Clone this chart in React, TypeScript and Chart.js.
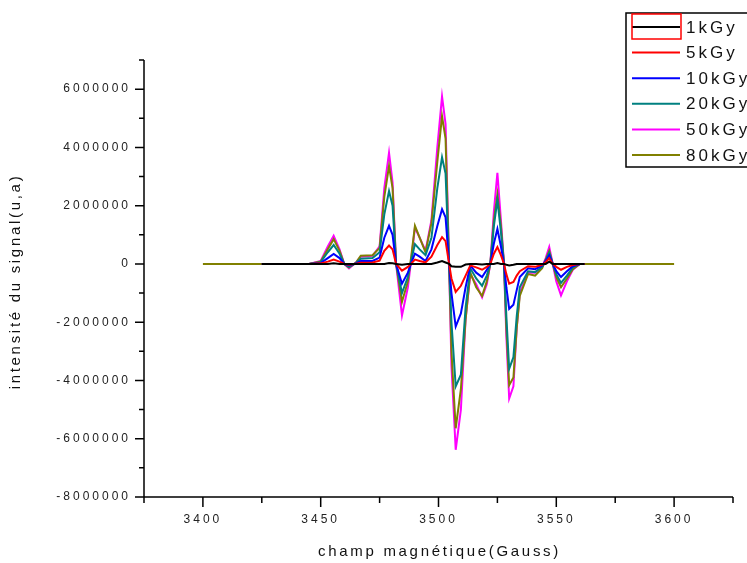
import { useEffect, useRef } from "react";
import { Chart, registerables } from "chart.js";

Chart.register(...registerables);

// magnetic field (Gauss) sample positions shared by all spectra
const field = [
  3425, 3445, 3450, 3453, 3455.5, 3458, 3460, 3462, 3465, 3467, 3472, 3475, 3477, 3479, 3480.5,
  3482, 3484.5, 3487, 3488.5, 3490, 3492, 3494.5, 3497, 3499.5, 3501.5, 3503, 3504.5, 3505.5,
  3507.3, 3509.5, 3511.5, 3513.5, 3516, 3518.5, 3520.5, 3522, 3523.5, 3525, 3526.5, 3527.8,
  3528.8, 3530, 3531.8, 3533.2, 3534.5, 3538, 3541, 3544, 3545.5, 3547, 3548.5, 3550, 3552,
  3554.5, 3557, 3560, 3562,
];
// the 80kGy spectrum also covers the flat ends of the sweep
const sweepStart80 = [3400];
const sweepEnd80 = [3600];
const sweepEdgeValue80 = [0];

const signal1kGy = [
  0, 0, 0, 0, 20000, 0, 0, 0, 0, 0,
  0, 0, 0, 30000, 20000, 0, -30000, 0, 0, 0,
  0, 0, 0, 50000, 100000, 50000, 0, -80000, -100000, -100000,
  -20000, 0, 0, -20000, 0, 0, 0, 30000, 0, 0,
  -30000, -50000, -30000, 0, 0, 0, 0, 0, 0, 80000,
  0, 0, 0, 0, 0, 0, 0,
];
const signal5kGy = [
  0, 0, 20000, 80000, 150000, 80000, 0, -30000, 10000, 40000,
  50000, 110000, 450000, 630000, 500000, 0, -230000, -100000, 20000, 150000,
  100000, 50000, 250000, 650000, 920000, 780000, 0, -500000, -960000, -750000,
  -400000, -50000, -120000, -200000, -100000, 0, 350000, 580000, 300000, 0,
  -350000, -680000, -620000, -400000, -250000, -80000, -100000, -30000, 60000, 200000,
  0, -100000, -200000, -100000, -40000, 0, 0,
];
const signal10kGy = [
  0, 0, 30000, 200000, 340000, 200000, 0, -50000, 20000, 100000,
  100000, 220000, 900000, 1310000, 1000000, 0, -680000, -300000, 50000, 350000,
  250000, 100000, 500000, 1300000, 1880000, 1600000, 0, -1000000, -2150000, -1700000,
  -800000, -50000, -300000, -450000, -200000, 0, 700000, 1200000, 600000, 0,
  -800000, -1540000, -1400000, -900000, -450000, -150000, -180000, -50000, 100000, 300000,
  0, -250000, -450000, -250000, -80000, 0, 0,
];
const signal20kGy = [
  0, 0, 60000, 400000, 650000, 350000, 0, -100000, 30000, 180000,
  200000, 400000, 1700000, 2500000, 2000000, 0, -1000000, -450000, 150000, 680000,
  500000, 300000, 900000, 2600000, 3660000, 3100000, 0, -2000000, -4200000, -3800000,
  -1500000, -150000, -500000, -750000, -400000, 0, 1300000, 2200000, 1100000, 0,
  -1800000, -3600000, -3200000, -1800000, -800000, -250000, -280000, -100000, 120000, 380000,
  0, -350000, -650000, -400000, -120000, 0, 0,
];
const signal50kGy = [
  0, 0, 100000, 600000, 970000, 500000, 0, -150000, 50000, 250000,
  280000, 600000, 2600000, 3820000, 2800000, 0, -1770000, -800000, 200000, 1250000,
  900000, 450000, 1500000, 4000000, 5750000, 4800000, 0, -3500000, -6380000, -5000000,
  -1900000, -350000, -700000, -1150000, -700000, 0, 1800000, 3130000, 1500000, 0,
  -2500000, -4620000, -4200000, -2200000, -1000000, -300000, -300000, -100000, 200000, 580000,
  0, -600000, -1080000, -600000, -200000, 0, 0,
];
const signal80kGy = [
  0, 0, 80000, 500000, 850000, 450000, 0, -120000, 50000, 280000,
  300000, 550000, 2300000, 3360000, 2600000, 0, -1300000, -600000, 300000, 1310000,
  900000, 400000, 1400000, 3500000, 5070000, 4300000, 0, -3000000, -5640000, -4300000,
  -1900000, -300000, -800000, -1100000, -600000, 0, 1500000, 2390000, 1300000, 0,
  -2200000, -4160000, -3900000, -2200000, -1100000, -350000, -400000, -150000, 150000, 450000,
  0, -450000, -800000, -500000, -180000, 0, 0,
];

const seriesLabels = ["1kGy", "5kGy", "10kGy", "20kGy", "50kGy", "80kGy"];
const seriesColors = ["#000000", "#ff0000", "#0000ff", "#008080", "#ff00ff", "#808000"];
// drawing order: smaller value = drawn on top
const seriesOrder = [0, 1, 2, 3, 5, 4];

const xTicks = [3400, 3450, 3500, 3550, 3600];
const xMinorTicks = [3375, 3425, 3475, 3525, 3575, 3625];
const yTicks = [-8000000, -6000000, -4000000, -2000000, 0, 2000000, 4000000, 6000000];
const yMinorTicks = [-7000000, -5000000, -3000000, -1000000, 1000000, 3000000, 5000000, 7000000];

const xTitle = "champ magnétique(Gauss)";
const yTitle = "intensité du signal(u,a)";

const FONT = '"Liberation Sans", Arial, sans-serif';

function toPoints(xs: number[], ys: number[]) {
  return xs.map((x, i) => ({ x, y: ys[i] }));
}

const decoPlugin = {
  id: "deco",
  beforeDraw(chart: any) {
    (chart.ctx as any).letterSpacing = "3px";
  },
  afterDraw(chart: any) {
    const ctx = chart.ctx as CanvasRenderingContext2D & { letterSpacing: string };
    const xs = chart.scales.x;
    const ys = chart.scales.y;
    const { left, right, top, bottom } = chart.chartArea;
    ctx.save();
    ctx.strokeStyle = "#000";
    ctx.lineWidth = 1.5;
    ctx.beginPath();
    ctx.moveTo(left, top);
    ctx.lineTo(left, bottom);
    ctx.moveTo(left, bottom);
    ctx.lineTo(right, bottom);
    for (const v of xTicks) {
      const p = xs.getPixelForValue(v);
      ctx.moveTo(p, bottom);
      ctx.lineTo(p, bottom + 10);
    }
    for (const v of xMinorTicks) {
      const p = xs.getPixelForValue(v);
      ctx.moveTo(p, bottom);
      ctx.lineTo(p, bottom + 6);
    }
    for (const v of yTicks) {
      const p = ys.getPixelForValue(v);
      ctx.moveTo(left, p);
      ctx.lineTo(left - 9, p);
    }
    for (const v of yMinorTicks) {
      const p = ys.getPixelForValue(v);
      ctx.moveTo(left, p);
      ctx.lineTo(left - 5, p);
    }
    ctx.stroke();

    // axis titles
    ctx.fillStyle = "#111";
    ctx.font = `15px ${FONT}`;
    ctx.letterSpacing = "2.7px";
    ctx.textAlign = "center";
    ctx.textBaseline = "alphabetic";
    ctx.fillText(xTitle, (left + right) / 2 + 1, 556);
    ctx.save();
    ctx.translate(20, (top + bottom) / 2 + 3);
    ctx.rotate(-Math.PI / 2);
    ctx.fillText(yTitle, 0, 0);
    ctx.restore();

    // legend
    ctx.lineWidth = 1.5;
    ctx.strokeStyle = "#000";
    ctx.fillStyle = "#fff";
    ctx.fillRect(626, 13, 140, 154);
    ctx.strokeRect(626, 13, 140, 154);
    ctx.font = `17px ${FONT}`;
    ctx.letterSpacing = "3px";
    ctx.textAlign = "left";
    ctx.textBaseline = "middle";
    seriesLabels.forEach((lab, i) => {
      const y = 27 + i * 25.6;
      ctx.strokeStyle = seriesColors[i];
      ctx.lineWidth = 2;
      ctx.beginPath();
      ctx.moveTo(632, y);
      ctx.lineTo(680, y);
      ctx.stroke();
      ctx.fillStyle = "#111";
      ctx.fillText(lab, 686, y + 1);
    });
    ctx.strokeStyle = "#ff0000";
    ctx.lineWidth = 1.5;
    ctx.strokeRect(632, 14, 49, 25);
    ctx.restore();
  },
};

export default function App() {
  const ref = useRef<HTMLCanvasElement>(null);
  useEffect(() => {
    const canvas = ref.current;
    if (!canvas) return;
    const values = [signal1kGy, signal5kGy, signal10kGy, signal20kGy, signal50kGy, signal80kGy];
    const datasets = values.map((vals, i) => {
      const isLast = i === values.length - 1;
      const xsArr = isLast ? [...sweepStart80, ...field, ...sweepEnd80] : field;
      const ysArr = isLast ? [...sweepEdgeValue80, ...vals, ...sweepEdgeValue80] : vals;
      return {
        label: seriesLabels[i],
        data: toPoints(xsArr, ysArr),
        borderColor: seriesColors[i],
        backgroundColor: seriesColors[i],
        borderWidth: 2,
        pointRadius: 0,
        tension: 0,
        fill: false,
        order: seriesOrder[i],
      };
    });
    const chart = new Chart(canvas, {
      type: "line",
      data: { datasets },
      plugins: [decoPlugin],
      options: {
        animation: false,
        responsive: false,
        devicePixelRatio: 1,
        layout: { padding: { left: 0, top: 60, right: 14, bottom: 0 } },
        plugins: { legend: { display: false }, tooltip: { enabled: false } },
        scales: {
          x: {
            type: "linear",
            min: 3375,
            max: 3625,
            grid: { display: false, drawTicks: false },
            border: { display: false },
            afterFit: (s: any) => {
              s.height = 66;
            },
            afterBuildTicks: (s: any) => {
              s.ticks = xTicks.map((v) => ({ value: v }));
            },
            ticks: {
              autoSkip: false,
              maxRotation: 0,
              padding: 15,
              color: "#222",
              font: { family: FONT, size: 12 },
              callback: (v: any) => String(v),
            },
          },
          y: {
            type: "linear",
            min: -8000000,
            max: 7000000,
            grid: { display: false, drawTicks: false },
            border: { display: false },
            afterFit: (s: any) => {
              s.width = 144;
            },
            afterBuildTicks: (s: any) => {
              s.ticks = yTicks.map((v) => ({ value: v }));
            },
            ticks: {
              autoSkip: false,
              padding: 13,
              color: "#222",
              font: { family: FONT, size: 12 },
              callback: (v: any) => String(v),
            },
          },
        },
      },
    } as any);
    return () => chart.destroy();
  }, []);
  return (
    <div style={{ position: "absolute", left: 0, top: 0, width: 747, height: 563, background: "#fff" }}>
      <canvas ref={ref} width={747} height={563} style={{ display: "block", width: 747, height: 563 }} />
    </div>
  );
}
